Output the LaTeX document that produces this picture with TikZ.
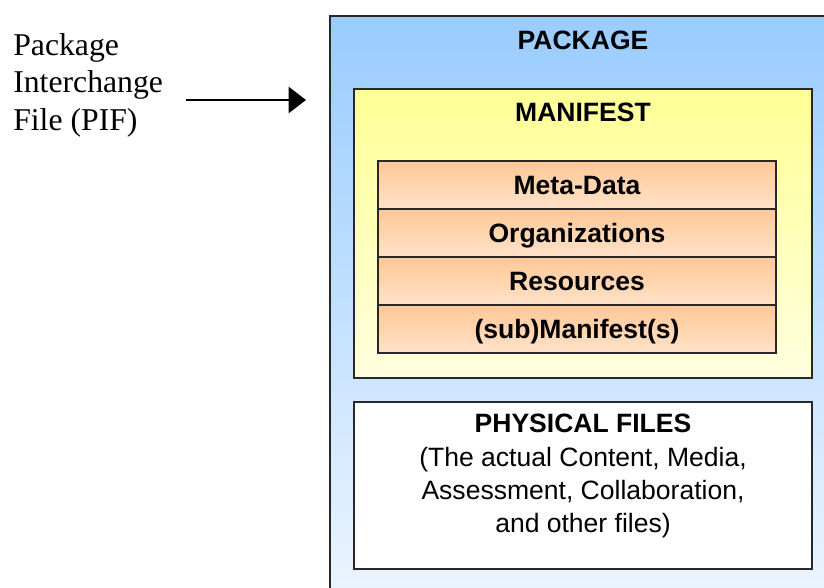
\documentclass[tikz,border=0pt]{standalone}
\usepackage{fontspec}
\setmainfont{Liberation Serif}
\setsansfont{Liberation Sans}
\usetikzlibrary{arrows.meta,positioning,shadows}

\definecolor{pkgtop}{RGB}{153,204,255}
\definecolor{pkgbot}{RGB}{236,245,255}
\definecolor{mantop}{RGB}{255,255,150}
\definecolor{manbot}{RGB}{255,255,222}
\definecolor{rowtop}{RGB}{255,199,150}
\definecolor{rowbot}{RGB}{255,226,200}
\definecolor{edge}{RGB}{40,40,40}

\tikzset{
  boxline/.style={draw=edge, line width=1.1pt, inner sep=0pt, outer sep=0pt, anchor=north west,
    drop shadow={shadow xshift=1.1pt, shadow yshift=-1.1pt, fill=black, opacity=0.35}},
  pkgbox/.style={boxline, top color=pkgtop, bottom color=pkgbot, minimum width=375pt, minimum height=438pt},
  manbox/.style={boxline, top color=mantop, bottom color=manbot, minimum width=343.5pt, minimum height=216.75pt},
  filebox/.style={boxline, fill=white, minimum width=343.5pt, minimum height=125.25pt},
  rowbox/.style={draw=edge, line width=1.1pt, inner sep=0pt, outer sep=0pt, top color=rowtop, bottom color=rowbot,
    minimum width=298.5pt, minimum height=36pt, text height=14.2pt, text depth=0pt,
    font=\sffamily\bfseries\fontsize{19.9}{25}\selectfont},
  headlabel/.style={inner sep=0pt, font=\sffamily\bfseries\fontsize{19.9}{25}\selectfont},
  pifarrow/.style={line width=1.9pt, -{Triangle[length=13pt,width=19.5pt]}, shorten >=18pt},
}

\begin{document}
\begin{tikzpicture}[x=0.75pt,y=0.75pt,yscale=-1,xscale=1]
\useasboundingbox (0,0) rectangle (824,587);
\clip (0,0) rectangle (824,587);
\fill[white] (0,0) rectangle (824,587);

%Shape: Rectangle [package]
\node[pkgbox] (package) at (330,16) {};
%Shape: Rectangle [manifest]
\node[manbox] (manifest) at (354,89) {};
%Shape: Rectangle [manifest rows]
\node[rowbox, anchor=north west] (metadata) at (378,161) {Meta-Data};
\node[rowbox, below=0pt of metadata] (orgs) {Organizations};
\node[rowbox, below=0pt of orgs] (resources) {Resources};
\node[rowbox, below=0pt of resources] (submanifest) {(sub)Manifest(s)};
%Shape: Rectangle [physical files]
\node[filebox] (physical) at (354,402) {};

% Text Node
\node[headlabel] (pkglabel) at (583,40.5) {PACKAGE};
% Text Node
\node[headlabel] (manlabel) at (583,112) {MANIFEST};
% Text Node
\node[inner sep=0pt, anchor=north, align=center, font=\sffamily\fontsize{19.9}{25}\selectfont] (filetext) at (583,414)
  {\textbf{PHYSICAL FILES}\\(The actual Content, Media,\\Assessment, Collaboration,\\and other files)};
% Text Node
\node[inner sep=0pt, anchor=north west, align=left, font=\fontsize{23.8}{28.1}\selectfont] (pif) at (13,33)
  {Package\\Interchange\\File (PIF)};

%Straight Lines [pif arrow]
\coordinate (pifout) at (186,100);
\draw[pifarrow] (pifout) -- (pifout -| package.west);

\end{tikzpicture}
\end{document}
